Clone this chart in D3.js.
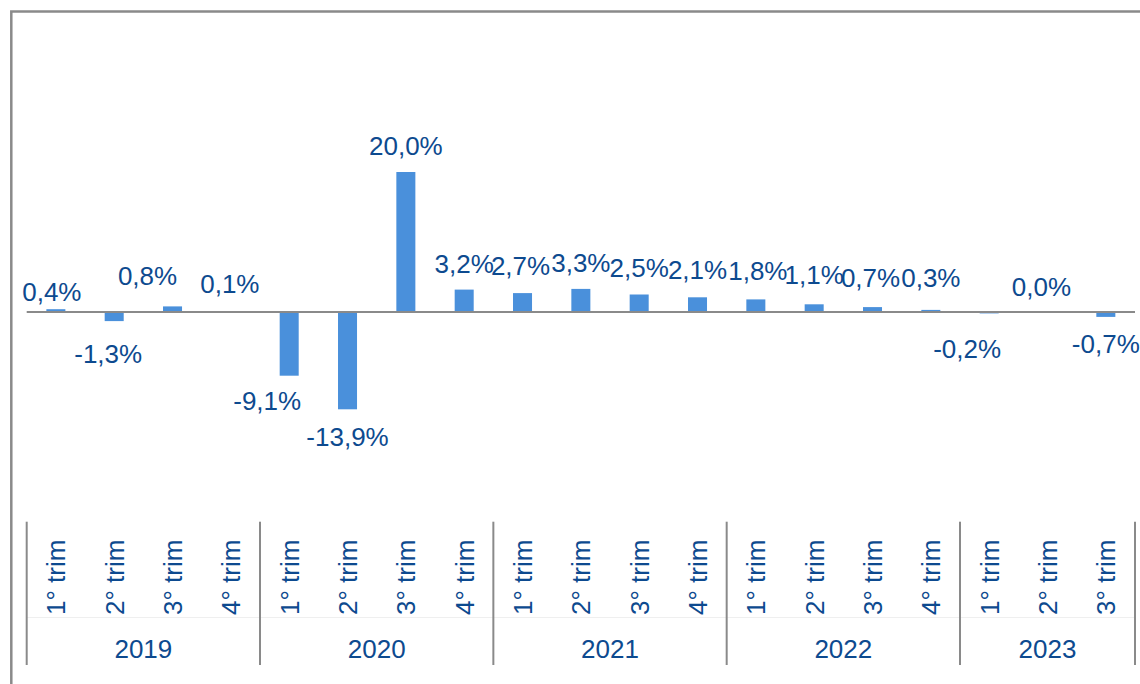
<!DOCTYPE html>
<html>
<head>
<meta charset="utf-8">
<script src="https://cdn.jsdelivr.net/npm/d3@7"></script>
<style>
  html, body { margin: 0; padding: 0; background: #fff; }
  svg { display: block; font-family: "Liberation Sans", Arial, sans-serif; }
</style>
</head>
<body>
<svg id="chart" width="1140" height="684"></svg>
<script>
// ---- data ----
const quarters = ["1° trim","2° trim","3° trim","4° trim",
                  "1° trim","2° trim","3° trim","4° trim",
                  "1° trim","2° trim","3° trim","4° trim",
                  "1° trim","2° trim","3° trim","4° trim",
                  "1° trim","2° trim","3° trim"];
const years = ["2019","2020","2021","2022","2023"];
const quartersPerYear = [4, 4, 4, 4, 3];
const values = [0.4, -1.3, 0.8, 0.1, -9.1, -13.9, 20.0, 3.2, 2.7, 3.3, 2.5, 2.1,
                1.8, 1.1, 0.7, 0.3, -0.2, 0.0, -0.7];

// ---- label layout nudges (px) ----
const labelDx = [-4, -6, -25, -1, -22, 0, 0, 0, -2, 0, 0, 0, 2, 0, -2, 0, -22, -6, 0];
const labelDy = [10, 4, -3, 0, -4, -1, 1, 1, 0, 1, 0, 0, -1, -2, -2, -5, 7, 2, -2];

// ---- style ----
const barColor = "#4a90db";
const textColor = "#0d4a8f";
const lineColor = "#8a8a8a";
const fontSize = 26;

const svg = d3.select("#chart");

// frame
svg.append("rect")
  .attr("x", 11.3).attr("y", 11.5)
  .attr("width", 1300).attr("height", 900)
  .attr("fill", "none")
  .attr("stroke", lineColor)
  .attr("stroke-width", 2.5);

const idx = values.map((d, i) => i);
const x = d3.scaleBand()
  .domain(idx)
  .range([26.7, 1135])
  .paddingInner(0.674)
  .paddingOuter(0.337);

const y = d3.scaleLinear().domain([-20, 20]).range([452, 172]);

// bars
svg.append("g").selectAll("rect")
  .data(values)
  .join("rect")
  .attr("x", (d, i) => x(i))
  .attr("width", x.bandwidth())
  .attr("y", d => y(Math.max(0, d)))
  .attr("height", d => Math.abs(y(d) - y(0)))
  .attr("fill", barColor);

// zero line
svg.append("line")
  .attr("x1", x.range()[0]).attr("x2", x.range()[1])
  .attr("y1", y(0)).attr("y2", y(0))
  .attr("stroke", lineColor)
  .attr("stroke-width", 2);

// value labels
const fmt = v => v.toFixed(1).replace(".", ",") + "%";
svg.append("g").selectAll("text")
  .data(values)
  .join("text")
  .attr("x", (d, i) => x(i) + x.bandwidth() / 2 + labelDx[i])
  .attr("y", (d, i) => (d >= 0 ? y(d) - 18 : y(d) + 38) + labelDy[i])
  .attr("text-anchor", "middle")
  .attr("font-size", fontSize)
  .attr("fill", textColor)
  .text(d => fmt(d));

// category axis: quarter labels
const axisTop = 521.7, axisBottom = 665;
svg.append("g").selectAll("text")
  .data(quarters)
  .join("text")
  .attr("transform", (d, i) => `translate(${x(i) + x.bandwidth() / 2 + 9.5},615) rotate(-90)`)
  .attr("text-anchor", "start")
  .attr("font-size", fontSize)
  .attr("fill", textColor)
  .text(d => d);

// faint divider between quarter and year rows
svg.append("line")
  .attr("x1", x.range()[0]).attr("x2", x.range()[1])
  .attr("y1", 617.5).attr("y2", 617.5)
  .attr("stroke", "#efefef")
  .attr("stroke-width", 1);

// year groups
let starts = [];
let acc = 0;
quartersPerYear.forEach(n => { starts.push(acc); acc += n; });
const step = x.step();
const x0 = x.range()[0];
const boundaries = starts.map(s => x0 + s * step).concat([x0 + acc * step]);

svg.append("g").selectAll("line")
  .data(boundaries)
  .join("line")
  .attr("x1", d => d).attr("x2", d => d)
  .attr("y1", axisTop).attr("y2", axisBottom)
  .attr("stroke", lineColor)
  .attr("stroke-width", 2);

svg.append("g").selectAll("text")
  .data(years)
  .join("text")
  .attr("x", (d, i) => x0 + (starts[i] + quartersPerYear[i] / 2) * step)
  .attr("y", 658)
  .attr("text-anchor", "middle")
  .attr("font-size", fontSize)
  .attr("fill", textColor)
  .text(d => d);
</script>
</body>
</html>
